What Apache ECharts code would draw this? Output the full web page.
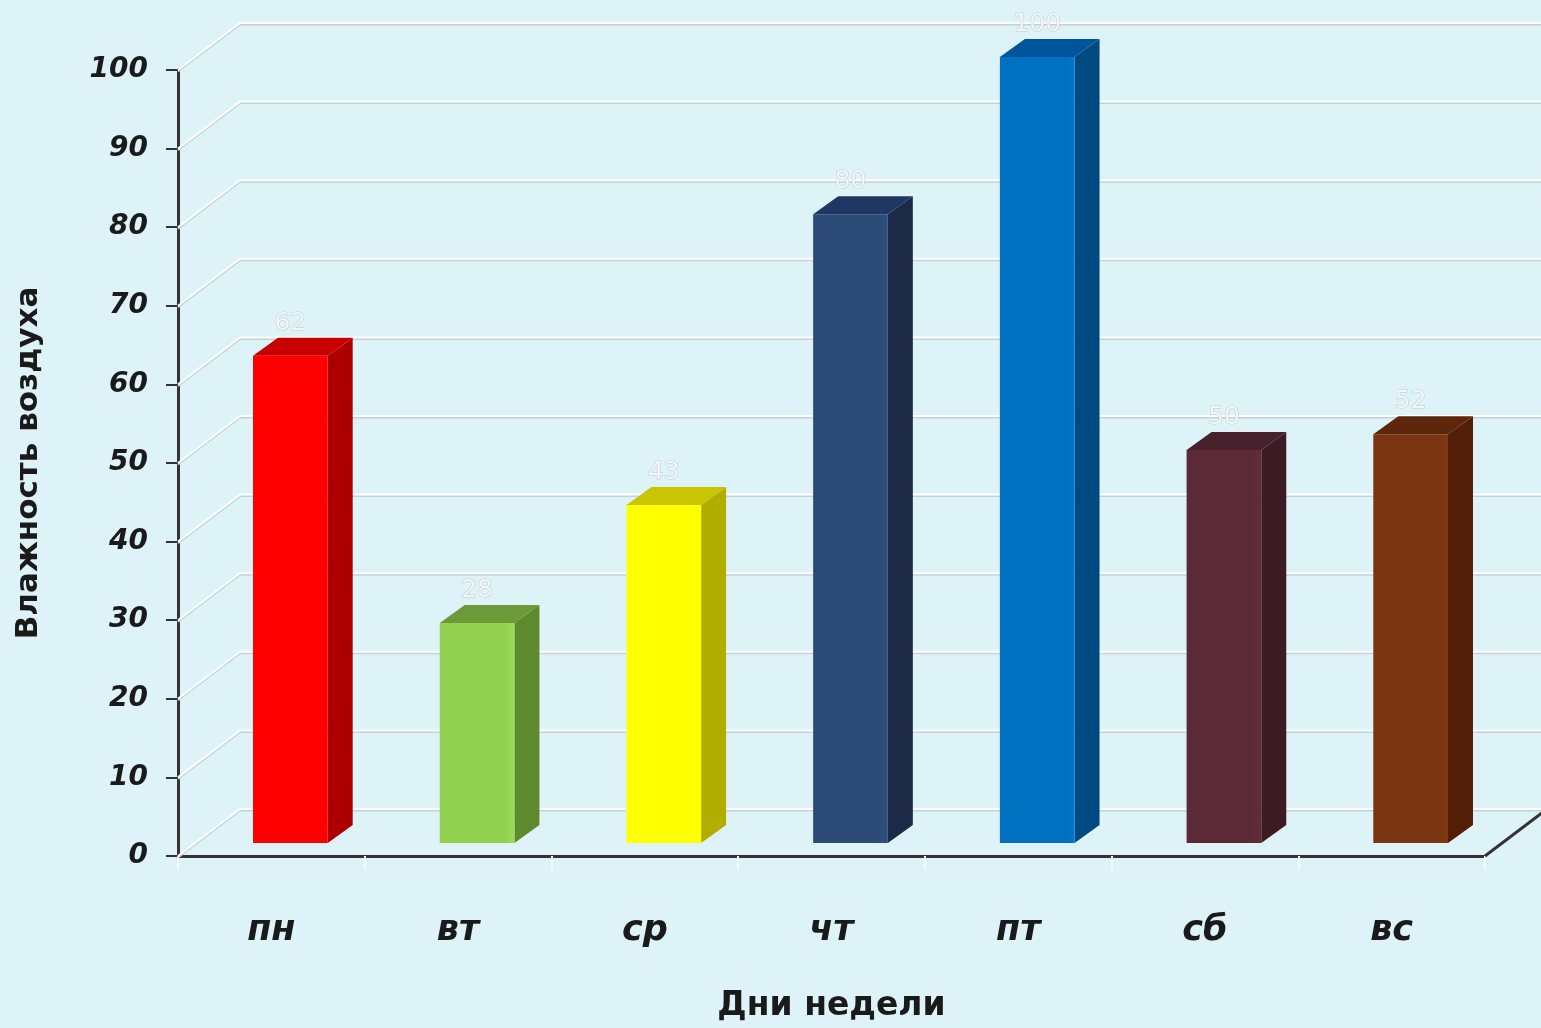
<!DOCTYPE html>
<html>
<head>
<meta charset="utf-8">
<script src="https://cdn.jsdelivr.net/npm/echarts@6/dist/echarts.min.js"></script>
<style>
  html, body { margin: 0; padding: 0; background: #def3f8; }
  #chart { width: 1541px; height: 1028px; }
</style>
</head>
<body>
<div id="chart"></div>
<script>
const days = ['пн', 'вт', 'ср', 'чт', 'пт', 'сб', 'вс'];
const humidity = [62, 28, 43, 80, 100, 50, 52];
const yTicks = [0, 10, 20, 30, 40, 50, 60, 70, 80, 90, 100];

// front / top / side colours of each bar
const frontColors = ['#ff0000', '#92d050', '#ffff00', '#2b4a77', '#0070c0', '#5c2a36', '#7a3410'];
const topColors = ['#c80000', '#6c9a38', '#c9c500', '#1f3763', '#00559a', '#46202a', '#5e260a'];
const sideColors = ['#ac0000', '#5e8a2e', '#b2ae00', '#1c2a47', '#004a82', '#3c1b22', '#521e06'];

const DX = 25, DY = -18;       // bar depth
const WX = 62, WY = -47;       // wall depth
const FONT = 'DejaVu Sans';

const chart = echarts.init(document.getElementById('chart'));

const option = {
  backgroundColor: '#def3f8',
  animation: false,
  grid: { left: 178, right: 56, top: 70, bottom: 172 },
  xAxis: {
    type: 'category',
    data: days,
    name: 'Дни недели',
    nameLocation: 'middle',
    nameGap: 134,
    nameTextStyle: { fontFamily: FONT, fontSize: 33, fontWeight: 'bold', color: '#1a1a1a' },
    axisLine: { lineStyle: { color: '#333', width: 3 } },
    axisTick: { show: true, length: 14, lineStyle: { color: '#f4f9fa', width: 2 } },
    axisLabel: { fontFamily: FONT, fontSize: 35, fontStyle: 'italic', fontWeight: 'bold', color: '#1a1a1a', margin: 57 }
  },
  yAxis: {
    type: 'value',
    min: 0,
    max: 100,
    interval: 10,
    name: 'Влажность воздуха',
    nameLocation: 'middle',
    nameRotate: 90,
    nameGap: 134,
    nameTextStyle: { fontFamily: FONT, fontSize: 31, fontWeight: 'bold', color: '#1a1a1a' },
    axisLine: { show: true, lineStyle: { color: '#333', width: 3 } },
    axisTick: { show: true, length: 12, lineStyle: { color: '#333', width: 2 } },
    splitLine: { show: false },
    axisLabel: { fontFamily: FONT, fontSize: 28, fontStyle: 'italic', fontWeight: 'bold', color: '#1a1a1a', margin: 30 }
  },
  series: [
    {
      // back wall grid lines
      type: 'custom',
      z: 1,
      silent: true,
      data: yTicks.map(v => [0, v]),
      renderItem: function (params, api) {
        const cs = params.coordSys;
        const y = api.coord([0, api.value(1)])[1];
        const pts = [[cs.x, y], [cs.x + WX, y + WY], [cs.x + cs.width + 200, y + WY]];
        const children = [
          { type: 'polyline', shape: { points: pts.map(p => [p[0], p[1] + 1.5]) }, style: { stroke: '#c3d2d7', lineWidth: 2, fill: null } },
          { type: 'polyline', shape: { points: pts }, style: { stroke: '#ffffff', lineWidth: 2, fill: null } }
        ];
        if (api.value(1) === 0) {
          children.push({
            type: 'line',
            shape: { x1: cs.x + cs.width, y1: y, x2: cs.x + cs.width + WX, y2: y + WY },
            style: { stroke: '#333', lineWidth: 3 }
          });
        }
        return { type: 'group', children: children };
      }
    },
    {
      // 3d bars
      type: 'custom',
      z: 5,
      data: humidity.map((v, i) => [i, v]),
      renderItem: function (params, api) {
        const i = api.value(0);
        const v = api.value(1);
        const base = api.coord([i, 0]);
        const top = api.coord([i, v]);
        const w = api.size([1, 0])[0] * 0.4;
        const cx = base[0] + 19;
        const xl = cx - w / 2, xr = cx + w / 2;
        const yb = base[1] - 13, yt = top[1] - 13;
        const fc = frontColors[i];
        return {
          type: 'group',
          children: [
            {
              type: 'polygon',
              shape: { points: [[xr, yt], [xr + DX, yt + DY], [xr + DX, yb + DY], [xr, yb]] },
              style: { fill: sideColors[i] }
            },
            {
              type: 'polygon',
              shape: { points: [[xl, yt], [xl + DX, yt + DY], [xr + DX, yt + DY], [xr, yt]] },
              style: { fill: topColors[i] }
            },
            {
              type: 'rect',
              shape: { x: xl, y: yt, width: w, height: yb - yt },
              style: {
                fill: new echarts.graphic.LinearGradient(0, 0, 1, 0, [
                  { offset: 0, color: fc },
                  { offset: 0.85, color: fc },
                  { offset: 1, color: echarts.color.lift(fc, -0.06) }
                ])
              }
            },
            {
              type: 'text',
              style: {
                x: cx, y: yt + DY - 2,
                text: String(v),
                fontFamily: FONT, fontSize: 25,
                fill: '#f2f6f7',
                stroke: 'rgba(150,165,170,0.5)', lineWidth: 1,
                align: 'center', verticalAlign: 'bottom'
              }
            }
          ]
        };
      }
    }
  ]
};

chart.setOption(option);
</script>
</body>
</html>
